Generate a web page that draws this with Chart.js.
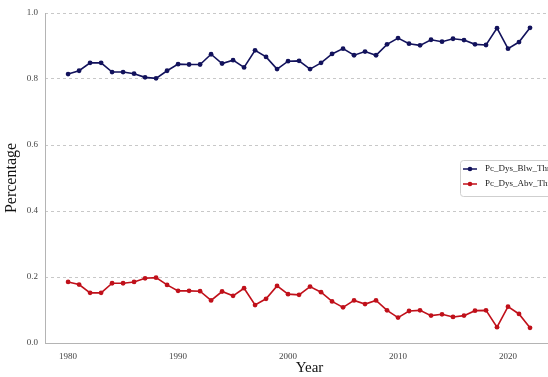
<!DOCTYPE html>
<html>
<head>
<meta charset="utf-8">
<script src="https://cdn.jsdelivr.net/npm/chart.js@4.4.1/dist/chart.umd.min.js"></script>
<style>
  html, body { margin: 0; padding: 0; background: #fff; overflow: hidden; }
  #wrap { width: 548px; height: 377px; overflow: hidden; }
  #box { width: 580px; height: 377px; }
</style>
</head>
<body>
<div id="wrap"><div id="box"><canvas id="chart"></canvas></div></div>
<script>
// yearly share of days below / above the threshold
const years = [1980, 1981, 1982, 1983, 1984, 1985, 1986, 1987, 1988, 1989,
  1990, 1991, 1992, 1993, 1994, 1995, 1996, 1997, 1998, 1999,
  2000, 2001, 2002, 2003, 2004, 2005, 2006, 2007, 2008, 2009,
  2010, 2011, 2012, 2013, 2014, 2015, 2016, 2017, 2018, 2019,
  2020, 2021, 2022];

const pcBelow = [0.815, 0.825, 0.849, 0.849, 0.821, 0.821, 0.816, 0.805, 0.802, 0.825,
  0.845, 0.844, 0.844, 0.875, 0.847, 0.857, 0.835, 0.887, 0.867, 0.830,
  0.854, 0.855, 0.830, 0.849, 0.876, 0.892, 0.872, 0.883, 0.872, 0.905,
  0.924, 0.907, 0.902, 0.919, 0.913, 0.922, 0.918, 0.905, 0.903, 0.954,
  0.892, 0.912, 0.955];

const pcAbove = [0.185, 0.177, 0.152, 0.152, 0.181, 0.181, 0.185, 0.196, 0.198, 0.176,
  0.158, 0.158, 0.157, 0.129, 0.156, 0.143, 0.166, 0.115, 0.134, 0.173,
  0.148, 0.146, 0.171, 0.154, 0.126, 0.108, 0.129, 0.118, 0.129, 0.099,
  0.077, 0.097, 0.099, 0.083, 0.087, 0.079, 0.083, 0.098, 0.099, 0.048,
  0.110, 0.088, 0.046];

const yearTicks = [1980, 1990, 2000, 2010, 2020];
const seriesNames = ['Pc_Dys_Blw_Thr', 'Pc_Dys_Abv_Thr'];
const seriesColors = ['#12125c', '#c0101a'];

const serif = '"Liberation Serif", "DejaVu Serif", serif';

function toPoints(vals) {
  return years.map((y, i) => ({ x: y, y: vals[i] }));
}

// solid left axis line (the y border option would pick up the grid dash)
const leftAxisLine = {
  id: 'leftAxisLine',
  beforeDatasetsDraw(chart) {
    const { ctx, chartArea } = chart;
    ctx.save();
    ctx.strokeStyle = '#b4b4b4';
    ctx.lineWidth = 1;
    ctx.beginPath();
    ctx.moveTo(chartArea.left + 0.5, chartArea.top);
    ctx.lineTo(chartArea.left + 0.5, chartArea.bottom);
    ctx.stroke();
    ctx.restore();
  }
};

// legend box drawn inside the plot, right side
const boxLegend = {
  id: 'boxLegend',
  afterDraw(chart) {
    const ctx = chart.ctx;
    const x = 460, y = 160, w = 110, h = 36;
    ctx.save();
    ctx.fillStyle = '#ffffff';
    ctx.strokeStyle = '#cfcfcf';
    ctx.lineWidth = 1;
    ctx.beginPath();
    ctx.roundRect(x + 0.5, y + 0.5, w, h, 3);
    ctx.fill();
    ctx.stroke();
    ctx.font = '9px ' + serif;
    ctx.textBaseline = 'middle';
    chart.data.datasets.forEach((ds, i) => {
      const ly = y + 9 + i * 15;
      ctx.strokeStyle = ds.borderColor;
      ctx.lineWidth = 1.5;
      ctx.beginPath();
      ctx.moveTo(463, ly);
      ctx.lineTo(477, ly);
      ctx.stroke();
      ctx.fillStyle = ds.borderColor;
      ctx.beginPath();
      ctx.arc(470, ly, 2.3, 0, Math.PI * 2);
      ctx.fill();
      ctx.fillStyle = '#222';
      ctx.fillText(ds.label, 485, ly);
    });
    ctx.restore();
  }
};

new Chart(document.getElementById('chart'), {
  type: 'line',
  data: {
    datasets: [
      {
        label: seriesNames[0],
        data: toPoints(pcBelow),
        borderColor: seriesColors[0],
        backgroundColor: seriesColors[0],
        borderWidth: 1.6,
        pointRadius: 2.4,
        pointBorderWidth: 0,
        tension: 0
      },
      {
        label: seriesNames[1],
        data: toPoints(pcAbove),
        borderColor: seriesColors[1],
        backgroundColor: seriesColors[1],
        borderWidth: 1.6,
        pointRadius: 2.4,
        pointBorderWidth: 0,
        tension: 0
      }
    ]
  },
  options: {
    responsive: true,
    maintainAspectRatio: false,
    animation: false,
    layout: { padding: { top: 13, right: 6, left: 0, bottom: 0 } },
    plugins: {
      legend: { display: false },
      tooltip: { enabled: false }
    },
    scales: {
      x: {
        type: 'linear',
        min: 1977.9,
        max: 2026,
        afterBuildTicks: (scale) => { scale.ticks = yearTicks.map(v => ({ value: v })); },
        afterFit: (scale) => { scale.height = 34; },
        grid: { display: false, drawTicks: false },
        border: { display: true, color: '#b4b4b4', width: 1 },
        ticks: {
          padding: 8,
          maxRotation: 0,
          color: '#444',
          font: { family: serif, size: 9 },
          callback: (v) => String(v)
        },
        title: {
          display: true,
          text: 'Year',
          color: '#111',
          font: { family: serif, size: 15 },
          padding: { top: 0, bottom: 0 }
        }
      },
      y: {
        min: 0,
        max: 1,
        afterFit: (scale) => { scale.width = 45; },
        grid: {
          color: '#c8c8c8',
          lineWidth: 1,
          drawTicks: false
        },
        border: { display: false, dash: [3, 3] },
        ticks: {
          stepSize: 0.2,
          padding: 7,
          color: '#444',
          font: { family: serif, size: 9 },
          callback: (v) => v.toFixed(1)
        },
        title: {
          display: true,
          text: 'Percentage',
          color: '#111',
          font: { family: serif, size: 16 },
          padding: { top: 2, bottom: 0 }
        }
      }
    }
  },
  plugins: [leftAxisLine, boxLegend]
});
</script>
</body>
</html>
